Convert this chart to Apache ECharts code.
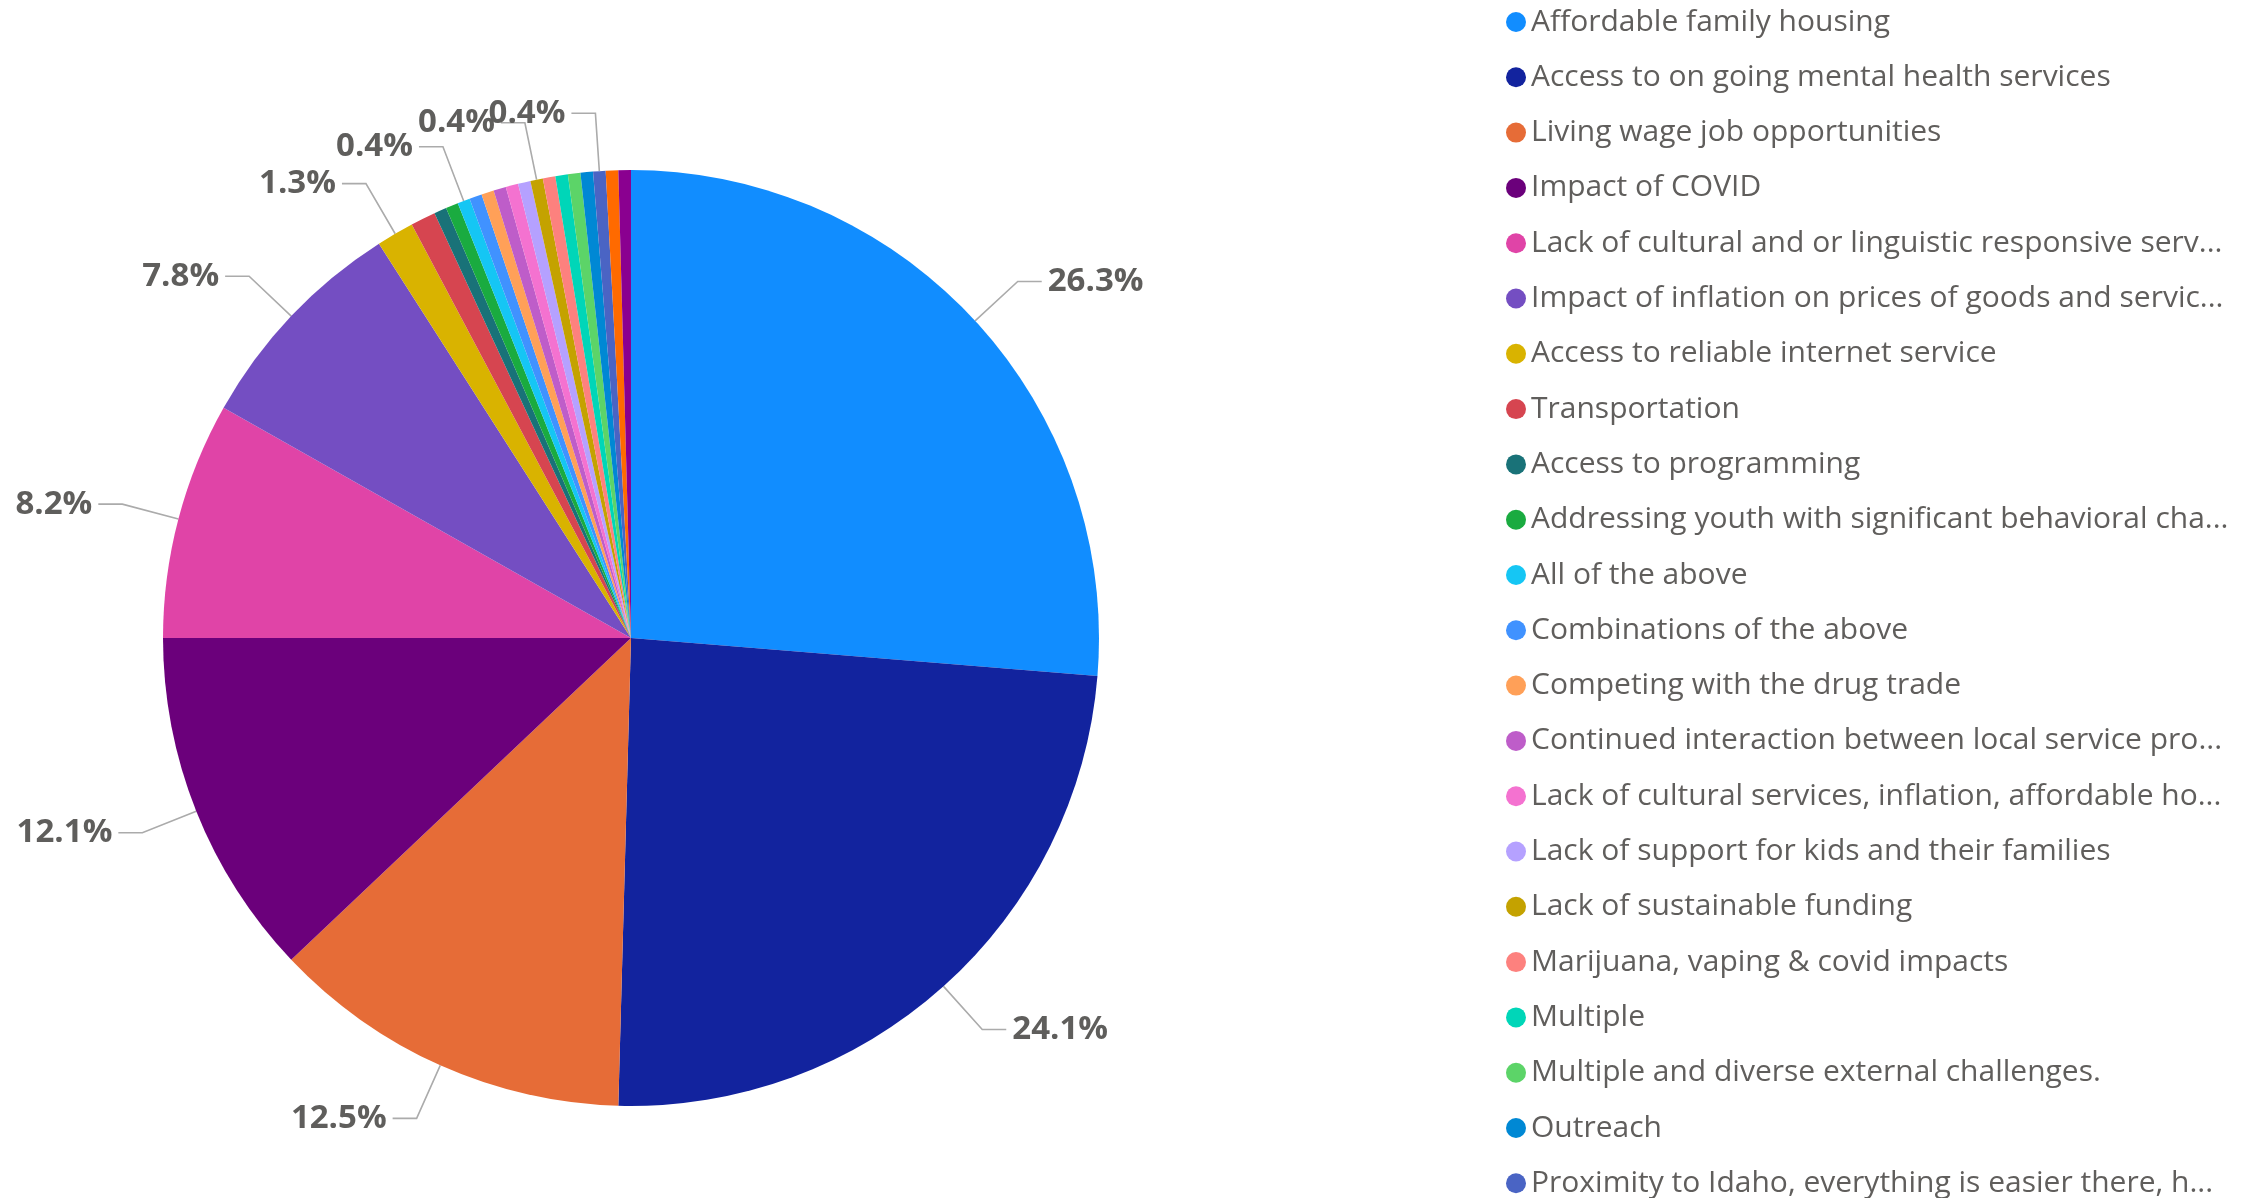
<!DOCTYPE html>
<html lang="en">
<head>
<meta charset="UTF-8" />
<title>Challenges</title>
</head>
<body>
<style>
* { margin: 0; padding: 0; }
#chartEl { width: 2243px; height: 1198px; background: #fff; }
</style>
<div id="chartEl"></div>
<script src="https://cdn.jsdelivr.net/npm/echarts@6/dist/echarts.min.js"></script>
<script>
// categories, in slice order (clockwise from 12 o'clock)
const categories = [
  'Affordable family housing',
  'Access to on going mental health services',
  'Living wage job opportunities',
  'Impact of COVID',
  'Lack of cultural and or linguistic responsive services',
  'Impact of inflation on prices of goods and services',
  'Access to reliable internet service',
  'Transportation',
  'Access to programming',
  'Addressing youth with significant behavioral challenges',
  'All of the above',
  'Combinations of the above',
  'Competing with the drug trade',
  'Continued interaction between local service providers',
  'Lack of cultural services, inflation, affordable housing',
  'Lack of support for kids and their families',
  'Lack of sustainable funding',
  'Marijuana, vaping & covid impacts',
  'Multiple',
  'Multiple and diverse external challenges.',
  'Outreach',
  'Proximity to Idaho, everything is easier there, housing',
  'Rural isolation',
  'Staffing shortages'
];
// response counts (read from the percentages, total 232)
const counts = [61, 56, 29, 28, 19, 18, 3, 2, 1, 1, 1, 1, 1, 1, 1, 1, 1, 1, 1, 1, 1, 1, 1, 1];
const colors = [
  '#118DFF', '#12239E', '#E66C37', '#6B007B', '#E044A7', '#744EC2',
  '#D9B300', '#D64550', '#197278', '#1AAB40', '#15C6F4', '#4092FF',
  '#FFA058', '#BE5DC9', '#F472D0', '#B5A1FF', '#C4A200', '#FD817E',
  '#00D6B8', '#5CD468', '#0088D4', '#4A64C4', '#FF6A00', '#8A0090'
];
// slices whose data label is visible in the picture
const labelled = [0, 1, 2, 3, 4, 5, 6, 10, 16, 21];
// legend shows only the first 22 entries, the rest scroll off
const legendCount = 22;

const chart = echarts.init(document.getElementById('chartEl'));

const pieData = categories.map(function (name, i) {
  return {
    name: name,
    value: counts[i],
    itemStyle: { color: colors[i] },
    label: { show: labelled.indexOf(i) >= 0 },
    labelLine: { show: labelled.indexOf(i) >= 0 }
  };
});

chart.setOption({
  animation: false,
  legend: {
    orient: 'vertical',
    left: 1501,
    top: 2,
    height: 1600,
    icon: 'circle',
    itemWidth: 20,
    itemHeight: 20,
    itemGap: 25.3,
    selectedMode: false,
    data: categories.slice(0, legendCount),
    textStyle: {
      fontFamily: 'Open Sans',
      fontSize: 30,
      lineHeight: 30,
      color: '#605E5C',
      width: 700,
      overflow: 'truncate',
      ellipsis: '...'
    }
  },
  series: [{
    type: 'pie',
    center: [631, 638],
    radius: [0, 468],
    startAngle: 90,
    clockwise: true,
    avoidLabelOverlap: false,
    data: pieData,
    label: {
      position: 'outside',
      formatter: function (p) { return p.percent.toFixed(1) + '%'; },
      fontFamily: 'Open Sans',
      fontWeight: 'bold',
      fontSize: 33,
      color: '#5F5E5C',
      distanceToLabelLine: 6
    },
    labelLayout: { hideOverlap: false, moveOverlap: null },
    labelLine: {
      length: 58,
      length2: 24,
      lineStyle: { color: '#ABABAB', width: 1.6 }
    },
    emphasis: { disabled: true }
  }]
});
</script>
</body>
</html>
